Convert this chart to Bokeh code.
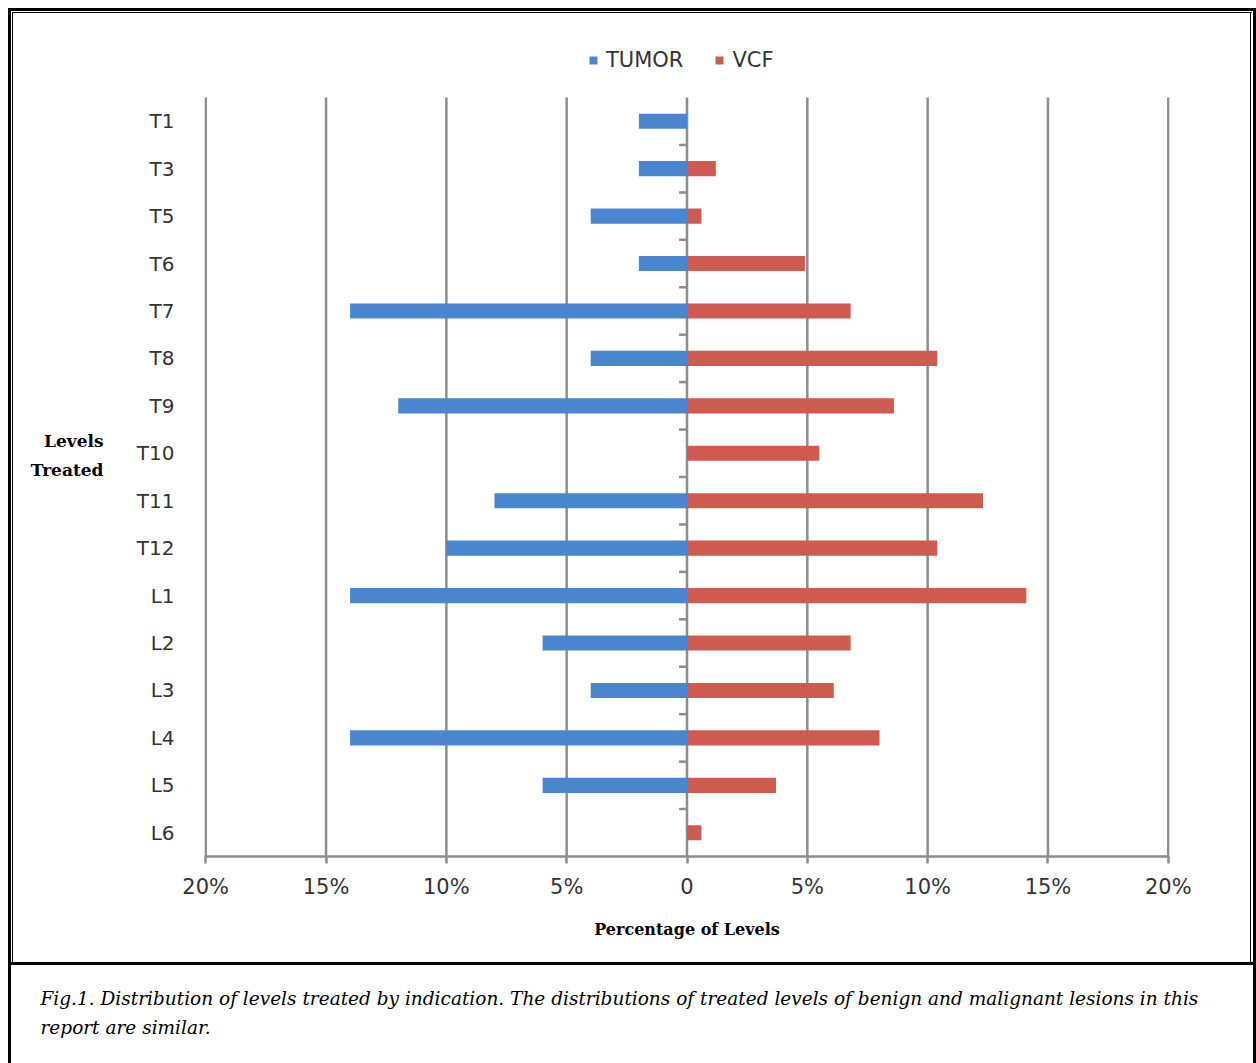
from bokeh.plotting import figure
from bokeh.models import (FixedTicker, Legend, LegendItem, ColumnDataSource,
                          LinearAxis, Range1d, Title)
from bokeh.embed import file_html
from bokeh.resources import INLINE

# ---- data (percent of levels) ----
levels = ["T1", "T3", "T5", "T6", "T7", "T8", "T9", "T10", "T11", "T12",
          "L1", "L2", "L3", "L4", "L5", "L6"]
tumor = [2, 2, 4, 2, 14, 4, 12, 0, 8, 10, 14, 6, 4, 14, 6, 0]
vcf = [0, 1.2, 0.6, 4.9, 6.8, 10.4, 8.6, 5.5, 12.3, 10.4, 14.1, 6.8, 6.1, 8.0, 3.7, 0.6]
x_ticks = [-20, -15, -10, -5, 0, 5, 10, 15, 20]
x_tick_labels = ["20%", "15%", "10%", "5%", "0", "5%", "10%", "15%", "20%"]
y_title_lines = ["Levels", "Treated"]
x_title = "Percentage of Levels"
caption_lines = ["Fig.1. Distribution of levels treated by indication. The distributions of "
                 "treated levels of benign and malignant lesions in this",
                 "report are similar."]

BLUE = "#4a86d0"
RED = "#cf5a4f"
GRID = "#8d8d8d"
TXT = "#333333"

n = len(levels)
ypos = [n - 1 - i for i in range(n)]
src = ColumnDataSource(dict(y=ypos,
                            tl=[-t for t in tumor], tr=[0] * n,
                            vl=[0] * n, vr=vcf))

# frame reaches up into the legend strip; chart area is y in [-0.5, n-0.5]
unit_px = 759 / n
head = 67 / unit_px
p = figure(width=1256, height=1063, frame_width=965, frame_height=826,
           min_border_left=204, min_border_right=87, min_border_top=30,
           min_border_bottom=207,
           x_range=(-20.05, 20.05), y_range=(-0.5, n - 0.5 + head),
           output_backend="svg", toolbar_location=None)
p.outline_line_color = None
p.background_fill_color = "white"
p.border_fill_alpha = 0
p.xgrid.grid_line_color = None
p.ygrid.grid_line_color = None
# page frame (double rule) and caption separator drawn as CSS backgrounds of the host
bk = "linear-gradient(#000,#000)"
p.styles = {
    "background-color": "white",
    "background-image": ", ".join([bk] * 7),
    "background-position": ("8px 8px, 8px 8px, 1253px 8px, 12px 12px, 12px 12px, "
                            "1250px 12px, 8px 962px"),
    "background-size": ("1248px 3px, 3px 1055px, 3px 1055px, 1240px 1px, 1px 950px, "
                        "1px 950px, 1248px 3px"),
    "background-repeat": "no-repeat",
}

# vertical grid lines over the category area only
p.segment(x0=x_ticks, x1=x_ticks, y0=[-0.5] * len(x_ticks), y1=[n - 0.5] * len(x_ticks),
          line_color=GRID, line_width=2.5)
# centre category axis boundary ticks
bounds = [k + 0.5 for k in range(n - 1)]
p.segment(x0=[-0.33] * len(bounds), x1=[0] * len(bounds), y0=bounds, y1=bounds,
          line_color=GRID, line_width=2.5)

r1 = p.hbar(y="y", left="tl", right="tr", height=0.32, source=src,
            fill_color=BLUE, line_color=None)
r2 = p.hbar(y="y", left="vl", right="vr", height=0.32, source=src,
            fill_color=RED, line_color=None)

# x axis
p.xaxis.ticker = FixedTicker(ticks=x_ticks)
p.xaxis.major_label_overrides = {t: l for t, l in zip(x_ticks, x_tick_labels)}
p.xaxis.axis_line_color = GRID
p.xaxis.axis_line_width = 2.5
p.xaxis.major_tick_line_color = GRID
p.xaxis.major_tick_line_width = 2.5
p.xaxis.major_tick_out = 7
p.xaxis.major_tick_in = 0
p.xaxis.minor_tick_line_color = None
p.xaxis.major_label_text_font = "DejaVu Sans"
p.xaxis.major_label_text_font_size = "21px"
p.xaxis.major_label_text_color = TXT
p.xaxis.major_label_standoff = 11

# x title on a bare second axis whose extent is shifted left like the original
xt_axis = LinearAxis(bounds=(-20, 15.6), ticker=FixedTicker(ticks=[]),
                     axis_line_color=None, major_tick_line_color=None,
                     minor_tick_line_color=None, major_tick_out=0, major_tick_in=0,
                     minor_tick_out=0, minor_tick_in=0, major_label_standoff=0,
                     axis_label=x_title, axis_label_standoff=18,
                     axis_label_text_font="DejaVu Serif",
                     axis_label_text_font_style="bold",
                     axis_label_text_font_size="16px",
                     axis_label_text_color="black")
p.add_layout(xt_axis, "below")

# y axis (category labels only)
p.yaxis.ticker = FixedTicker(ticks=ypos)
p.yaxis.major_label_overrides = {y: lab for y, lab in zip(ypos, levels)}
p.yaxis.axis_line_color = None
p.yaxis.major_tick_line_color = None
p.yaxis.minor_tick_line_color = None
p.yaxis.major_label_text_font = "DejaVu Sans"
p.yaxis.major_label_text_font_size = "20px"
p.yaxis.major_label_text_color = TXT
p.yaxis.major_label_standoff = 24

# y title as labels of an outer axis (pixel offsets from frame top)
p.extra_y_ranges = {"px": Range1d(start=826, end=0)}
title_pos = [410, 439]
ax2 = LinearAxis(y_range_name="px", ticker=FixedTicker(ticks=title_pos),
                 major_label_overrides={t: s for t, s in zip(title_pos, y_title_lines)},
                 axis_line_color=None, major_tick_line_color=None,
                 minor_tick_line_color=None, major_label_standoff=24,
                 major_label_text_font="DejaVu Serif",
                 major_label_text_font_style="bold",
                 major_label_text_font_size="17px",
                 major_label_text_color="black")
p.add_layout(ax2, "left")

# legend in the strip above the categories
legend = Legend(items=[LegendItem(label="TUMOR", renderers=[r1]),
                       LegendItem(label="VCF", renderers=[r2])],
                orientation="horizontal", location=(384, 784),
                padding=0, margin=0, spacing=31, border_line_color=None,
                background_fill_alpha=0, glyph_width=10, glyph_height=10,
                label_height=20, label_standoff=8,
                label_text_font="DejaVu Sans", label_text_font_size="21px",
                label_text_color=TXT)
p.add_layout(legend)

# caption (two lines) below the axis title
p.add_layout(Title(text="\n".join(caption_lines), align="left", offset=-164, standoff=90,
                   text_font="DejaVu Serif", text_font_style="italic",
                   text_font_size="18.5px", text_line_height=1.4,
                   text_color="black"), "below")

open("out.html", "w").write(file_html(p, INLINE))
